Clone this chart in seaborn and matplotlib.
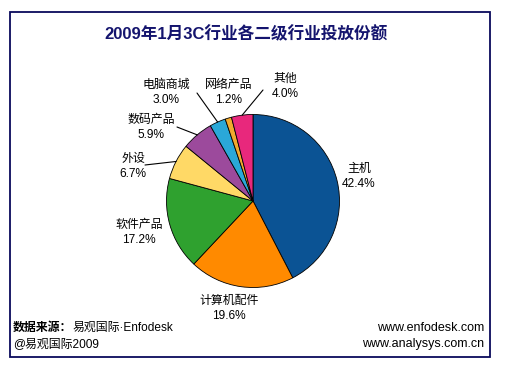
import matplotlib
matplotlib.use("Agg")
import numpy as np
import matplotlib.pyplot as plt
import seaborn as sns
from matplotlib.patches import Rectangle

# data
categories = ["主机", "计算机配件", "软件产品", "外设", "数码产品", "电脑商城", "网络产品", "其他"]
shares = [42.4, 19.6, 17.2, 6.7, 5.9, 3.0, 1.2, 4.0]
colors = ["#0b5394", "#ff8a00", "#2fa12f", "#ffd966", "#9c4a9c", "#2aa8d8", "#f2aa2e", "#e8287c"]

title = "2009年1月3C行业各二级行业投放份额"

# label placement in pixels (name line), leader line starts (None = no line)
label_pos = [(359, 169), (229, 301), (139, 225), (133, 159), (151, 120), (166, 85), (229, 85), (285, 79)]
leader_start = [None, None, None, (145, 165), (177, 127), (197, 93), None, (263, 90)]

W, H = 505, 370
sns.set_theme(style="white")
# Arial-like latin first, CJK glyphs fall back to Noto
plt.rcParams["font.family"] = ["Liberation Sans", "Noto Sans CJK SC", "DejaVu Sans"]

fig = plt.figure(figsize=(W / 100, H / 100), dpi=100)
ax = fig.add_axes([0, 0, 1, 1])


def py(y):
    # pixel row -> data y
    return H - y


cx, cy, r = 253, 201, 86.5
wedges, _ = ax.pie(shares, colors=colors, startangle=90, counterclock=False,
                   center=(cx, py(cy)), radius=r,
                   wedgeprops=dict(edgecolor="black", linewidth=0.6))
ax.set_xlim(0, W)
ax.set_ylim(0, H)
ax.axis("off")

fs = 8.6
for i, w in enumerate(wedges):
    lx, ly = label_pos[i]
    ax.text(lx, py(ly), categories[i], ha="center", va="center", fontsize=fs, color="black")
    ax.text(lx, py(ly + 15), f"{shares[i]:.1f}%", ha="center", va="center", fontsize=fs, color="black")
    if leader_start[i] is not None:
        th = np.deg2rad((w.theta1 + w.theta2) / 2)
        ex, ey = cx + r * np.cos(th), py(cy) + r * np.sin(th)
        sx, sy = leader_start[i]
        ax.plot([sx, ex], [py(sy), ey], color="black", linewidth=0.8)

# outer frame
ax.add_patch(Rectangle((10, py(357)), 480, 345, fill=False, edgecolor="#0a0a5c", linewidth=1.3))

ax.text(246, py(34), title, ha="center", va="center", fontsize=12, fontweight="bold", color="#14146e")

# footer
ffs = 9.0
t1 = ax.text(13, py(328), "数据来源：", ha="left", va="center", fontsize=fs, fontweight="bold", color="black")
ax.annotate("易观国际·Enfodesk", xy=(1, 0.5), xycoords=t1, ha="left", va="center", fontsize=fs, color="black")
ax.text(13, py(344), "@易观国际2009", ha="left", va="center", fontsize=fs, color="black")
ax.text(484, py(328), "www.enfodesk.com", ha="right", va="center", fontsize=ffs, color="black")
ax.text(484, py(344), "www.analysys.com.cn", ha="right", va="center", fontsize=ffs, color="black")

fig.savefig("out.png", dpi=100, facecolor="white")
